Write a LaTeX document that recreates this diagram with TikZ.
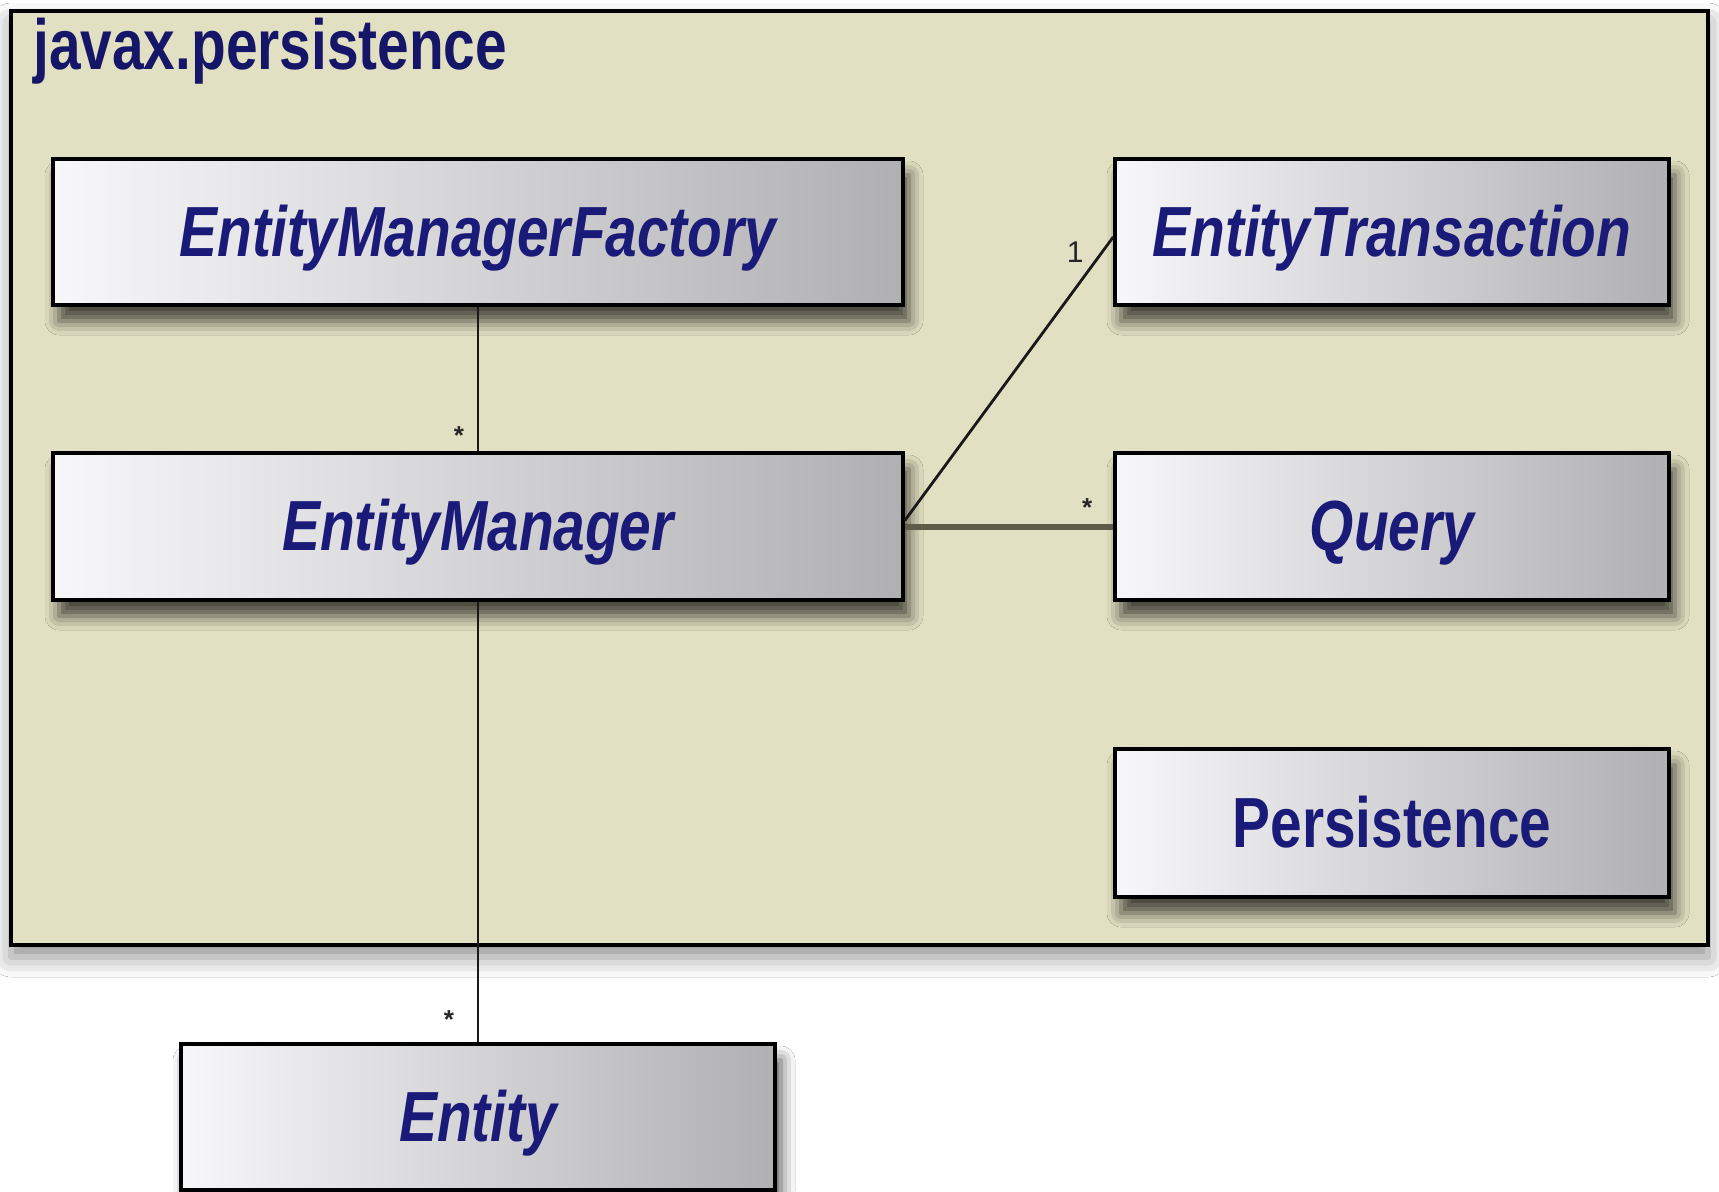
\documentclass[tikz,border=0pt]{standalone}
\usepackage{fontspec}
\setmainfont{Liberation Sans}
\newfontfamily\cfont[FakeStretch=0.8]{Liberation Sans}
\usetikzlibrary{shadows.blur}
\definecolor{navy}{RGB}{26,26,120}
\definecolor{titlenavy}{RGB}{22,22,105}
\definecolor{pkgfill}{RGB}{226,224,194}
\definecolor{boxlight}{RGB}{247,247,249}
\definecolor{boxdark}{RGB}{176,176,178}
\definecolor{assocgray}{RGB}{94,92,72}
\tikzset{
  pkg/.style={draw=black, line width=1.8pt, fill=pkgfill, inner sep=0pt,
    blur shadow={shadow xshift=0pt, shadow yshift=-6pt, shadow blur radius=10pt, shadow opacity=45}},
  cls/.style={draw=black, line width=1.8pt, inner sep=0pt,
    left color=boxlight, right color=boxdark,
    text=navy, font=\cfont\fontsize{35.5}{36}\selectfont\bfseries\itshape,
    text height=26pt, text depth=2pt,
    blur shadow={shadow xshift=3pt, shadow yshift=-8pt, shadow blur radius=7pt, shadow opacity=70}},
  clsup/.style={cls, font=\cfont\fontsize{35.5}{36}\selectfont\bfseries},
  conn/.style={draw=black!90, line width=1.4pt},
  thickconn/.style={draw=assocgray, line width=3pt},
  mult/.style={inner sep=0pt, text=black!85, font=\fontsize{13}{13}\selectfont\bfseries},
  multone/.style={inner sep=0pt, text=black!85, font=\fontsize{15}{15}\selectfont},
  pkgtitle/.style={inner sep=0pt, text=titlenavy, font=\cfont\fontsize{35.5}{36}\selectfont\bfseries}
}
\begin{document}
\begin{tikzpicture}[x=0.5pt,y=-0.5pt]
\useasboundingbox (0,0) rectangle (1719,1191);
\fill[white] (0,0) rectangle (1719,1191);
% package frame
\node[pkg, minimum width=848.5pt, minimum height=467pt] (pkg) at (859.5,478) {};
\node[pkgtitle, anchor=base west] (title) at (33,69) {javax.persistence};
% classes
\node[cls, minimum width=425pt, minimum height=73pt] (emf) at (478,232) {EntityManagerFactory};
\node[cls, minimum width=277pt, minimum height=73pt] (et) at (1392,232) {EntityTransaction};
\node[cls, minimum width=425pt, minimum height=73.5pt] (em) at (478,526.5) {EntityManager};
\node[cls, minimum width=277pt, minimum height=73.5pt] (q) at (1392,526.5) {Query};
\node[clsup, minimum width=277pt, minimum height=74pt] (pers) at (1392,823) {Persistence};
\node[cls, minimum width=297pt, minimum height=73pt] (ent) at (478,1117) {Entity};
% connectors
\draw[conn] (emf.south) -- (em.north);
\draw[conn] (em.south) -- (ent.north);
\draw[conn] ([yshift=3pt]em.east) -- ([yshift=-2.5pt]et.west);
\draw[thickconn] (em.east) -- (q.west);
% multiplicities
\node[mult] (m1) at ([xshift=-9.5pt,yshift=8pt]em.north) {*};
\node[mult] (m2) at ([xshift=-14.5pt,yshift=11.5pt]ent.north) {*};
\node[mult] (m3) at ([xshift=-13pt,yshift=9.5pt]q.west) {*};
\node[multone] (m4) at ([xshift=-19pt,yshift=-10pt]et.west) {1};
\end{tikzpicture}
\end{document}
